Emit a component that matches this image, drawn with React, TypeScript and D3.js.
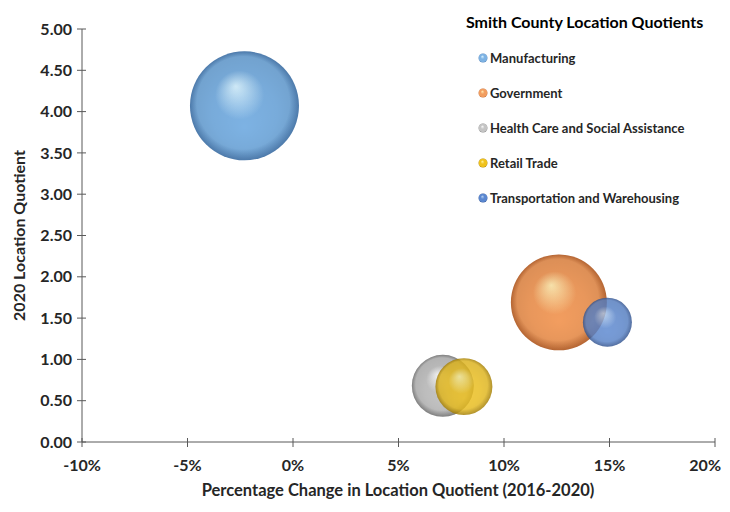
import * as d3 from "d3"

const industries = [
  "Manufacturing",
  "Government",
  "Health Care and Social Assistance",
  "Retail Trade",
  "Transportation and Warehousing",
]
// percentage change in LQ 2016-2020
const pctChange = [-2.3, 12.6, 7.1, 8.1, 14.9]
// 2020 location quotient
const lq2020 = [4.07, 1.69, 0.68, 0.67, 1.45]
// bubble size (employment, relative)
const bubbleSize = [2970, 2300, 960, 810, 600]

const xTicks = [-10, -5, 0, 5, 10, 15, 20]
const yTicks = [0, 0.5, 1, 1.5, 2, 2.5, 3, 3.5, 4, 4.5, 5]

const palette = [
  { hi: "#d6f1ff", base: "#7db2e3", edge: "#5587bd" },
  { hi: "#ffe9b0", base: "#f29d5f", edge: "#c87038" },
  { hi: "#f8f8f8", base: "#c4c4c4", edge: "#8e8e8e" },
  { hi: "#fff29a", base: "#f0c21c", edge: "#b38900" },
  { hi: "#b4d0f2", base: "#5a87d0", edge: "#34599c" },
]

const W = 722
const H = 504

export default function App() {
  const x = d3.scaleLinear().domain([-10, 20]).range([74, 707])
  const y = d3.scaleLinear().domain([0, 5]).range([434, 21])
  const r = d3.scaleSqrt().domain([0, d3.max(bubbleSize) as number]).range([0, 54.5])
  const font = "Lato, 'Open Sans', sans-serif"
  const axisColor = "#595959"
  const last = xTicks[xTicks.length - 1]

  return (
    <svg width={W} height={H} style={{ display: "block", background: "#fff" }} fontFamily={font}>
      <defs>
        {palette.map((p, i) => (
          <radialGradient key={i} id={`g${i}`} cx="50%" cy="50%" r="50%" fx="42%" fy="32%">
            <stop offset="0%" stopColor={p.hi} />
            <stop offset="45%" stopColor={p.base} />
            <stop offset="85%" stopColor={p.base} />
            <stop offset="100%" stopColor={p.edge} />
          </radialGradient>
        ))}
        <radialGradient id="shade" cx="50%" cy="50%" r="50%" fx="50%" fy="70%">
          <stop offset="0%" stopColor="#000000" stopOpacity={0} />
          <stop offset="60%" stopColor="#000000" stopOpacity={0.04} />
          <stop offset="100%" stopColor="#000000" stopOpacity={0.1} />
        </radialGradient>
      </defs>

      {/* y axis */}
      <line x1={x(-10)} x2={x(-10)} y1={y(0)} y2={y(5)} stroke={axisColor} strokeWidth={1} />
      {yTicks.map((t) => (
        <g key={t}>
          <line x1={x(-10) - 5} x2={x(-10) + 4} y1={y(t)} y2={y(t)} stroke={axisColor} />
          <text x={x(-10) - 10} y={y(t)} dy="0.35em" textAnchor="end" fontSize={16} fontWeight="bold" fill="#262626">
            {t.toFixed(2)}
          </text>
        </g>
      ))}

      {/* x axis */}
      <line x1={x(-10)} x2={x(20)} y1={y(0)} y2={y(0)} stroke={axisColor} strokeWidth={1} />
      {xTicks.map((t) => (
        <g key={t}>
          <line x1={x(t)} x2={x(t)} y1={y(0) - 4} y2={y(0) + 5} stroke={axisColor} />
          <text
            x={t === last ? 713 : x(t)}
            y={y(0) + 29}
            textAnchor={t === last ? "end" : "middle"}
            fontSize={16}
            fontWeight="bold"
            fill="#262626"
          >
            {`${t}%`}
          </text>
        </g>
      ))}

      <text
        transform={`translate(11,${(y(0) + y(5)) / 2}) rotate(-90)`}
        textAnchor="middle"
        dy="0.35em"
        fontSize={16}
        fontWeight="bold"
        fill="#262626"
      >
        2020 Location Quotient
      </text>
      <text x={390} y={488} textAnchor="middle" fontSize={16.5} fontWeight="bold" fill="#262626">
        Percentage Change in Location Quotient (2016-2020)
      </text>

      {/* bubbles */}
      {industries.map((name, i) => (
        <g key={name} opacity={i >= 3 ? 0.82 : 1}>
          <circle cx={x(pctChange[i])} cy={y(lq2020[i])} r={r(bubbleSize[i])} fill={`url(#g${i})`} />
          <circle cx={x(pctChange[i])} cy={y(lq2020[i])} r={r(bubbleSize[i])} fill="url(#shade)" />
        </g>
      ))}

      {/* legend */}
      <text x={458} y={20} fontSize={16} fontWeight="bold" fill="#000">
        Smith County Location Quotients
      </text>
      {industries.map((name, i) => (
        <g key={name} transform={`translate(475,${50 + i * 35})`}>
          <circle r={4.5} fill={`url(#g${i})`} />
          <text x={7} dy="0.35em" fontSize={13} fontWeight="bold" fill="#262626">
            {name}
          </text>
        </g>
      ))}
    </svg>
  )
}
